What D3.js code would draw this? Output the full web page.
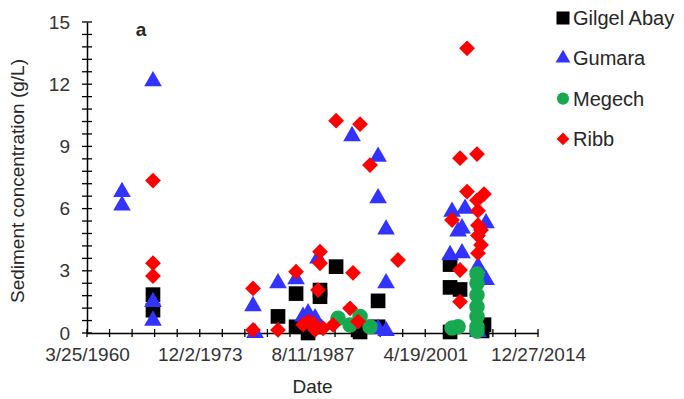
<!DOCTYPE html>
<html>
<head>
<meta charset="utf-8">
<script src="https://cdn.jsdelivr.net/npm/d3@7"></script>
<style>
  body { margin: 0; background: #fff; }
  text { font-family: Arial, "Liberation Sans", sans-serif; fill: #262626; }
</style>
</head>
<body>
<svg id="chart" width="684" height="399"></svg>
<script>
// dates are decimal years, values are g/L
var gilgelAbayDates  = [1968.24, 1968.24, 1983.42, 1985.61, 1985.61, 1987.07, 1987.92, 1988.52, 1988.52, 1990.47, 1993.14, 1993.38, 1995.57, 1995.57, 2004.31, 2004.31, 2004.31, 2005.52, 2008.43, 2008.2];
var gilgelAbayValues = [1.85, 1.1, 0.8, 1.9, 0.3, 0.0, 0.3, 2.07, 1.75, 3.2, 0.15, 0.05, 1.55, 0.3, 3.3, 2.2, 0.05, 2.1, 0.4, 0.1];

var gumaraDates  = [1964.48, 1964.48, 1968.24, 1968.24, 1968.24, 1980.39, 1980.63, 1983.42, 1985.61, 1986.46, 1987.07, 1987.92, 1988.28, 1992.41, 1995.57, 1995.57, 1995.57, 1996.54, 1996.54, 1996.54, 2004.31, 2004.55, 2005.28, 2005.76, 2005.76, 2006.13, 2007.7, 2007.7, 2008.68, 2008.68];
var gumaraValues = [6.8, 6.15, 12.15, 1.5, 0.6, 1.3, 0.0, 2.4, 2.6, 0.79, 0.95, 0.71, 3.6, 9.5, 8.5, 6.5, 0.2, 5.0, 2.4, 0.1, 3.76, 5.85, 4.9, 3.85, 5.05, 6.0, 3.2, 0.05, 5.3, 2.56];

var megechDates  = [1990.71, 1992.17, 1993.38, 1994.59, 2004.55, 2005.28, 2007.58, 2007.58, 2007.58, 2007.58, 2007.58, 2007.58, 2007.58];
var megechValues = [0.71, 0.39, 0.79, 0.3, 0.24, 0.3, 2.85, 2.4, 1.83, 1.27, 0.79, 0.3, 0.1];

var ribbDates  = [1968.24, 1968.24, 1968.24, 1980.39, 1980.39, 1983.42, 1985.61, 1986.46, 1987.07, 1987.67, 1987.92, 1988.52, 1988.52, 1988.28, 1988.89, 1990.1, 1990.47, 1992.53, 1993.38, 1992.17, 1993.14, 1994.59, 1997.99, 2004.55, 2005.52, 2005.52, 2005.52, 2006.37, 2006.37, 2007.58, 2007.58, 2007.7, 2007.7, 2007.7, 2007.7, 2008.07, 2008.07, 2008.43];
var ribbValues = [7.35, 3.37, 2.75, 2.15, 0.15, 0.15, 2.96, 0.4, 0.55, 0.47, 0.15, 3.92, 3.36, 2.07, 0.23, 0.39, 10.24, 2.9, 10.07, 1.19, 0.55, 8.1, 3.52, 5.45, 8.43, 3.04, 1.51, 13.73, 6.82, 8.63, 6.4, 5.9, 5.2, 4.7, 3.85, 4.97, 4.25, 6.7];

var seriesNames = ["Gilgel Abay", "Gumara", "Megech", "Ribb"];
var yTickValues = [0, 3, 6, 9, 12, 15];

var xStart = new Date(1960, 2, 25); // 3/25/1960
var xEnd = new Date(2014, 11, 27);  // 12/27/2014

function yearToDate(yr) {
  var whole = Math.floor(yr);
  return new Date(whole, 0, 1 + Math.round((yr - whole) * 365));
}

function zipSeries(dates, values) {
  var out = [];
  for (var i = 0; i < dates.length; i++) {
    out.push({ date: yearToDate(dates[i]), value: values[i] });
  }
  return out;
}

var seriesData = [
  zipSeries(gilgelAbayDates, gilgelAbayValues),
  zipSeries(gumaraDates, gumaraValues),
  zipSeries(megechDates, megechValues),
  zipSeries(ribbDates, ribbValues)
];

var colors = ["#000000", "#3333ff", "#17a94f", "#ff0000"];
var shapes = [d3.symbolSquare, d3.symbolTriangle, d3.symbolCircle, d3.symbolSquare];
var sizes = [215, 135, 190, 125];
var rotations = [0, 0, 0, 45];
var legendSizes = [170, 95, 115, 80];

var svg = d3.select("#chart");
var plotLeft = 87, plotRight = 538, plotTop = 22, plotBottom = 333;

var x = d3.scaleTime().domain([xStart, xEnd]).range([plotLeft, plotRight]);
var y = d3.scaleLinear().domain([0, 15]).range([plotBottom, plotTop]);

// x ticks every 1000 days, labels every 5000
var xTicks = d3.range(0, 21).map(function (i) { return d3.timeDay.offset(xStart, i * 1000); });
var fmt = d3.timeFormat("%-m/%-d/%Y");

var xAxis = d3.axisBottom(x)
  .tickValues(xTicks)
  .tickSize(0)
  .tickFormat(function (d, i) { return i % 5 === 0 ? fmt(d) : ""; });

var xg = svg.append("g").attr("transform", "translate(0," + plotBottom + ")").call(xAxis);
xg.select(".domain").attr("stroke", "#000").attr("stroke-width", 1.5);
xg.selectAll("text").attr("dy", 0).attr("y", 28).style("font-size", "19px").style("fill", "#333");
xg.selectAll(".tick line").remove();
xg.selectAll(".tickmark").data(xTicks).join("line")
  .attr("x1", function (d) { return x(d); }).attr("x2", function (d) { return x(d); })
  .attr("y1", -4).attr("y2", 4)
  .attr("stroke", "#000").attr("stroke-width", 1.3);

// y axis: minor every 0.6
var yMinor = d3.range(0, 26).map(function (i) { return i * 0.6; });
var yAxis = d3.axisLeft(y).tickValues(yTickValues).tickSize(0).tickPadding(17);
var yg = svg.append("g").attr("transform", "translate(" + plotLeft + ",0)").call(yAxis);
yg.select(".domain").attr("stroke", "#000").attr("stroke-width", 1.5);
yg.selectAll("text").style("font-size", "19px").style("fill", "#333");
yg.selectAll(".tickmark").data(yMinor).join("line")
  .attr("y1", function (d) { return y(d); }).attr("y2", function (d) { return y(d); })
  .attr("x1", -5).attr("x2", 5)
  .attr("stroke", "#000").attr("stroke-width", 1.3);

svg.append("text")
  .attr("transform", "translate(24,181) rotate(-90)")
  .attr("text-anchor", "middle")
  .style("font-size", "19px")
  .text("Sediment concentration (g/L)");

svg.append("text")
  .attr("x", (plotLeft + plotRight) / 2)
  .attr("y", 393)
  .attr("text-anchor", "middle")
  .style("font-size", "19px")
  .text("Date");

svg.append("text")
  .attr("x", 141).attr("y", 36)
  .attr("text-anchor", "middle")
  .style("font-size", "19px").style("font-weight", "bold")
  .text("a");

// points, drawn series by series so Ribb ends up on top
seriesData.forEach(function (pts, s) {
  var sym = d3.symbol().type(shapes[s]).size(sizes[s]);
  svg.append("g").selectAll("path").data(pts).join("path")
    .attr("d", sym)
    .attr("transform", function (d) {
      return "translate(" + x(d.date) + "," + y(d.value) + ") rotate(" + rotations[s] + ")";
    })
    .attr("fill", colors[s]);
});

// legend
var legend = svg.append("g");
seriesNames.forEach(function (name, s) {
  var ly = 18 + s * 40.3;
  legend.append("path")
    .attr("d", d3.symbol().type(shapes[s]).size(legendSizes[s]))
    .attr("transform", "translate(563," + ly + ") rotate(" + rotations[s] + ")")
    .attr("fill", colors[s]);
  legend.append("text")
    .attr("x", 573).attr("y", ly)
    .attr("dy", "0.35em")
    .style("font-size", "20px")
    .text(name);
});
</script>
</body>
</html>
